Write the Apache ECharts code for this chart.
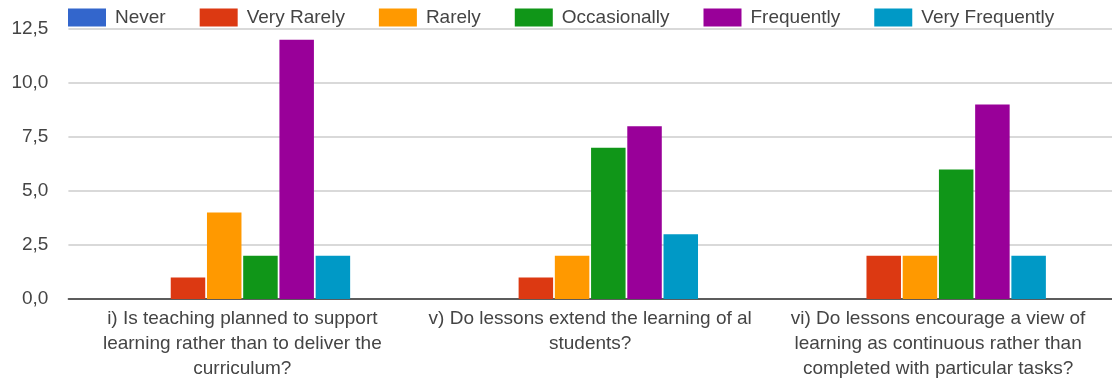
<!DOCTYPE html>
<html>
<head>
<meta charset="utf-8">
<script src="https://cdn.jsdelivr.net/npm/echarts@6/dist/echarts.min.js"></script>
<style>
  html, body { margin: 0; padding: 0; background: #fff; }
  #chart { width: 1112px; height: 381px; }
</style>
</head>
<body>
<div id="chart"></div>
<script>
// Survey questions (x-axis categories)
const categories = [
  'i) Is teaching planned to support\nlearning rather than to deliver the\ncurriculum?',
  'v) Do lessons extend the learning of al\nstudents?',
  'vi) Do lessons encourage a view of\nlearning as continuous rather than\ncompleted with particular tasks?'
];

// Response counts per frequency option
const never          = [0, 0, 0];
const veryRarely     = [1, 1, 2];
const rarely         = [4, 2, 2];
const occasionally   = [2, 7, 6];
const frequently     = [12, 8, 9];
const veryFrequently = [2, 3, 2];

const seriesNames = ['Never', 'Very Rarely', 'Rarely', 'Occasionally', 'Frequently', 'Very Frequently'];
const seriesData  = [never, veryRarely, rarely, occasionally, frequently, veryFrequently];
const colors      = ['#3366cc', '#dc3912', '#ff9900', '#109618', '#990099', '#0099c6'];

const FONT = '"Liberation Sans", Arial, sans-serif';

const chart = echarts.init(document.getElementById('chart'), null, { renderer: 'canvas' });

chart.setOption({
  animation: false,
  color: colors,
  textStyle: { fontFamily: FONT },
  legend: {
    data: seriesNames,
    left: 68,
    top: 8,
    padding: 0,
    itemWidth: 38,
    itemHeight: 18,
    itemGap: 34,
    icon: 'rect',
    textStyle: { fontSize: 19, color: '#444', fontFamily: FONT, padding: [0, 0, 0, 4] }
  },
  grid: { left: 68.4, width: 1052.5, top: 29, bottom: 78, containLabel: false },
  xAxis: {
    type: 'category',
    data: categories,
    axisTick: { show: false },
    axisLine: { lineStyle: { color: '#333', width: 1.5 } },
    axisLabel: {
      interval: 0,
      margin: 7,
      fontSize: 19,
      lineHeight: 25,
      color: '#444',
      fontFamily: FONT,
      align: 'center'
    }
  },
  yAxis: {
    type: 'value',
    min: 0,
    max: 12.5,
    interval: 2.5,
    axisLine: { show: false },
    axisTick: { show: false },
    splitLine: { lineStyle: { color: '#cccccc', width: 1.5 } },
    axisLabel: {
      margin: 20,
      fontSize: 19,
      color: '#444',
      fontFamily: FONT,
      formatter: v => v.toFixed(1).replace('.', ',')
    }
  },
  series: seriesNames.map((name, i) => ({
    name,
    type: 'bar',
    data: seriesData[i],
    barWidth: 34.5,
    barGap: '5%',
    itemStyle: { color: colors[i] }
  }))
});
</script>
</body>
</html>
